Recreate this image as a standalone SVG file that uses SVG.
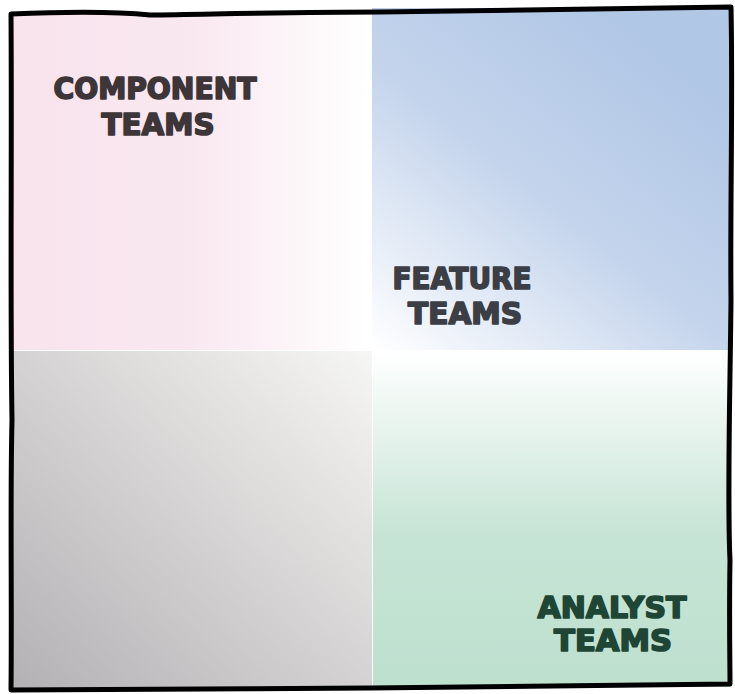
<svg xmlns="http://www.w3.org/2000/svg" width="735" height="694" viewBox="0 0 735 694">
<defs>
<linearGradient id="gPink" x1="0" y1="0" x2="1" y2="0">
<stop offset="0" stop-color="#f9e3ed"/><stop offset="0.5" stop-color="#f9e8f0"/><stop offset="1" stop-color="#ffffff"/>
</linearGradient>
<linearGradient id="gBlue" x1="0" y1="1" x2="0.75" y2="0.1">
<stop offset="0" stop-color="#ffffff"/><stop offset="0.55" stop-color="#c4d4ec"/><stop offset="1" stop-color="#b1c7e6"/>
</linearGradient>
<linearGradient id="gGrey" x1="0" y1="1" x2="1" y2="0">
<stop offset="0" stop-color="#b3b1b4"/><stop offset="0.5" stop-color="#d4d2d2"/><stop offset="1" stop-color="#f6f6f4"/>
</linearGradient>
<linearGradient id="gGreen" x1="0" y1="0" x2="0" y2="1">
<stop offset="0" stop-color="#ffffff"/><stop offset="0.55" stop-color="#c6e4d5"/><stop offset="1" stop-color="#bee0cf"/>
</linearGradient>
<style>
.lbl{font-family:"DejaVu Sans Condensed","DejaVu Sans",sans-serif;font-weight:bold;font-size:30px;text-anchor:middle;stroke-width:1.6;stroke-linejoin:round}
.frame{fill:none;stroke:#000;stroke-width:5;stroke-linejoin:round}
</style>
</defs>
<rect width="735" height="694" fill="#ffffff"/>
<g id="component">
<rect x="12" y="12" width="360" height="338" fill="url(#gPink)"/>
<text class="lbl" fill="#3d3538" stroke="#3d3538" x="155" y="99" textLength="203" lengthAdjust="spacingAndGlyphs">COMPONENT</text>
<text class="lbl" fill="#3d3538" stroke="#3d3538" x="158" y="135" textLength="113" lengthAdjust="spacingAndGlyphs">TEAMS</text>
</g>
<g id="feature">
<rect x="372" y="8" width="360" height="342" fill="url(#gBlue)"/>
<text class="lbl" fill="#3b3e44" stroke="#3b3e44" x="462" y="289" textLength="139" lengthAdjust="spacingAndGlyphs">FEATURE</text>
<text class="lbl" fill="#3b3e44" stroke="#3b3e44" x="465" y="324" textLength="114" lengthAdjust="spacingAndGlyphs">TEAMS</text>
</g>
<g id="grey">
<rect x="12" y="351" width="360" height="338" fill="url(#gGrey)"/>
</g>
<g id="analyst">
<rect x="373" y="351" width="359" height="336" fill="url(#gGreen)"/>
<text class="lbl" fill="#1f4535" stroke="#1f4535" x="612" y="618" font-size="28" textLength="149" lengthAdjust="spacingAndGlyphs">ANALYST</text>
<text class="lbl" fill="#1f4535" stroke="#1f4535" x="613" y="651" font-size="28" textLength="118" lengthAdjust="spacingAndGlyphs">TEAMS</text>
</g>
<g id="frame">
<path class="frame" d="M11,14 C60,12 110,11 150,15 C220,14 300,12 380,12 C480,11 600,8 731,7 C733,100 730,200 731,300 C730,400 727,500 730,560 C729,620 730,660 730,684 C600,685 480,686 370,688 C250,689 120,689 11,690 C12,600 10,500 12,420 C10,300 12,150 11,14 Z"/>
</g>
</svg>
